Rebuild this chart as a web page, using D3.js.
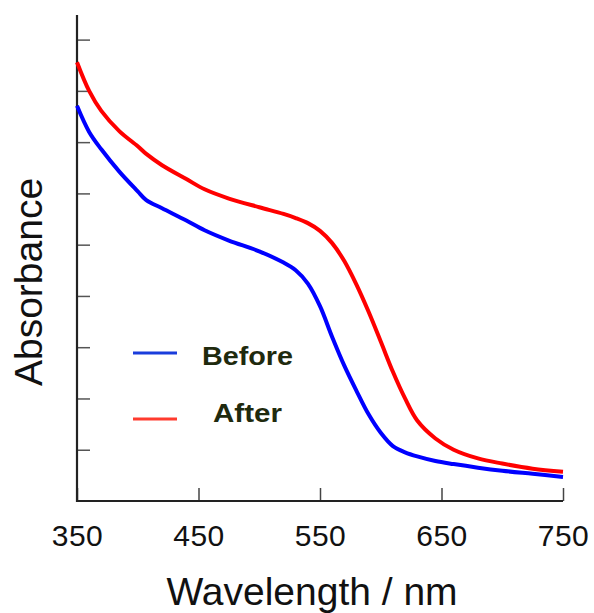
<!DOCTYPE html>
<html lang="en">
<head>
    <meta charset="UTF-8">
    <title>Absorbance Before / After</title>
    <script src="https://d3js.org/d3.v7.min.js"></script>
    <style>
        body {
            margin: 0;
            background: #fff;
            font-family: "Liberation Sans", Arial, sans-serif;
        }
    </style>
</head>
<body>
    <script>
        // Data (arbitrary absorbance units)
        const wavelengths = [350, 360, 370, 385, 400, 407, 420, 440, 455, 475, 500, 520, 530, 540, 550,
                             560, 570, 580, 590, 600, 610, 620, 630, 645, 660, 680, 700, 725, 750];
        const before = [0.771, 0.720, 0.686, 0.642, 0.604, 0.587, 0.571, 0.547, 0.528, 0.508, 0.487, 0.465, 0.450, 0.424, 0.380,
                        0.320, 0.264, 0.215, 0.169, 0.133, 0.107, 0.095, 0.087, 0.078, 0.072, 0.065, 0.059, 0.053, 0.047];
        const after = [0.856, 0.800, 0.761, 0.721, 0.692, 0.677, 0.655, 0.628, 0.608, 0.590, 0.573, 0.560, 0.552, 0.542, 0.527,
                       0.503, 0.468, 0.422, 0.369, 0.311, 0.252, 0.200, 0.157, 0.122, 0.100, 0.083, 0.073, 0.063, 0.057];
        const xTicks = [350, 450, 550, 650, 750];
        const yTicks = [0.1, 0.2, 0.3, 0.4, 0.5, 0.6, 0.7, 0.8, 0.9];
        const series = [
            { label: "Before", values: before, color: "#0000ff", legendColor: "#1a3ddc" },
            { label: "After", values: after, color: "#ff0000", legendColor: "#ff3b2e" }
        ];

        const width = 594, height = 613;
        const x0 = 77, x1 = 563, yBottom = 501, yTop = 15;

        const svg = d3.select("body")
            .append("svg")
            .attr("width", width)
            .attr("height", height);

        const x = d3.scaleLinear().domain([350, 750]).range([x0, x1]);
        const y = d3.scaleLinear().domain([0, 0.948]).range([yBottom, yTop]);

        // Axes (ticks point inward)
        const xAxis = svg.append("g")
            .attr("transform", `translate(0,${yBottom})`)
            .call(d3.axisBottom(x).tickValues(xTicks).tickSize(-13).tickPadding(24).tickFormat(d3.format("d")));
        xAxis.select(".domain").remove();
        xAxis.selectAll(".tick line").attr("stroke", "#444").attr("stroke-width", 1.5);
        xAxis.selectAll(".tick text")
            .attr("fill", "#111")
            .style("font-size", "30px")
            .style("letter-spacing", "0.5px")
            .style("font-family", "'Liberation Sans', Arial, sans-serif");

        const yAxis = svg.append("g")
            .attr("transform", `translate(${x0},0)`)
            .call(d3.axisLeft(y).tickValues(yTicks).tickSize(-13).tickFormat(""));
        yAxis.select(".domain").remove();
        yAxis.selectAll(".tick line").attr("stroke", "#555").attr("stroke-width", 1.5);

        // Axis lines
        svg.append("path")
            .attr("d", `M${x0},${yTop}V${yBottom}H${x1}`)
            .attr("fill", "none")
            .attr("stroke", "#222")
            .attr("stroke-width", 2.2);

        // Curves
        const line = d3.line()
            .x((d, i) => x(wavelengths[i]))
            .y(d => y(d))
            .curve(d3.curveCatmullRom.alpha(0.5));

        svg.selectAll(".curve")
            .data(series)
            .enter()
            .append("path")
            .attr("class", "curve")
            .attr("d", d => line(d.values))
            .attr("fill", "none")
            .attr("stroke", d => d.color)
            .attr("stroke-width", 4)
            .attr("stroke-linejoin", "round");

        // Legend
        const legend = svg.append("g");
        const legendRows = [
            { yl: 353, tx: 202, ty: 365, len: 91 },
            { yl: 419, tx: 213, ty: 422, len: 69 }
        ];
        series.forEach((s, i) => {
            const r = legendRows[i];
            legend.append("line")
                .attr("x1", 133).attr("x2", 177)
                .attr("y1", r.yl).attr("y2", r.yl)
                .attr("stroke", s.legendColor)
                .attr("stroke-width", 3);
            legend.append("text")
                .attr("x", r.tx).attr("y", r.ty)
                .attr("textLength", r.len)
                .attr("lengthAdjust", "spacingAndGlyphs")
                .attr("fill", "#1f2a0e")
                .style("font-size", "25px")
                .style("font-weight", "bold")
                .text(s.label);
        });

        // Axis titles
        svg.append("text")
            .attr("x", 312).attr("y", 605)
            .attr("text-anchor", "middle")
            .attr("fill", "#111")
            .style("font-size", "39px")
            .text("Wavelength / nm");

        svg.append("text")
            .attr("transform", "translate(42,282) rotate(-90)")
            .attr("text-anchor", "middle")
            .attr("fill", "#111")
            .style("font-size", "39px")
            .text("Absorbance");
    </script>
</body>
</html>
